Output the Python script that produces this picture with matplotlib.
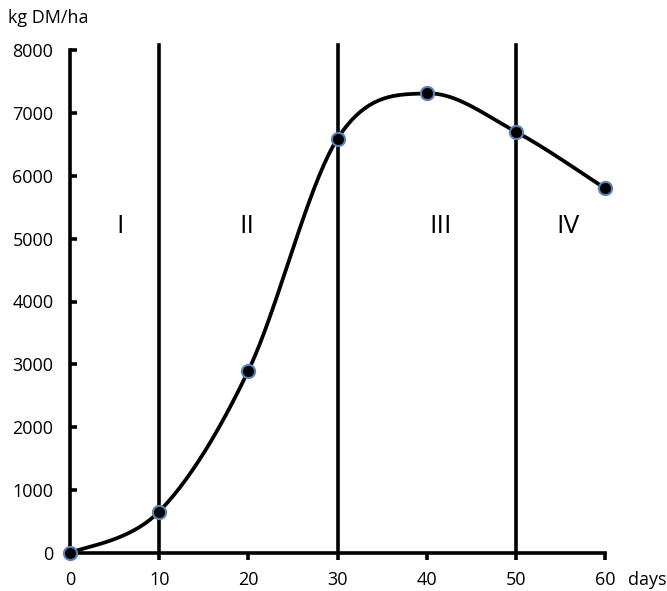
import matplotlib
matplotlib.use("Agg")
import matplotlib.pyplot as plt
import numpy as np

# Data
days = [0, 10, 20, 30, 40, 50, 60]
yield_kg = [0, 660, 2900, 6590, 7310, 6700, 5800]
phase_days = [10, 30, 50]
phase_labels = ["I", "II", "III", "IV"]
phase_label_x = [5.6, 19.8, 41.6, 55.8]
phase_label_y = 5200


def smooth_line(x, y, n=40):
    # Bezier smoothing like a spreadsheet "smoothed line"
    x = np.asarray(x, float)
    y = np.asarray(y, float)
    px = np.concatenate([[x[0]], x, [x[-1]]])
    py = np.concatenate([[y[0]], y, [y[-1]]])
    xs, ys = [], []
    t = np.linspace(0, 1, n)
    for i in range(1, len(px) - 2):
        p0 = np.array([px[i], py[i]])
        p3 = np.array([px[i + 1], py[i + 1]])
        c1 = p0 + (np.array([px[i + 1], py[i + 1]]) - np.array([px[i - 1], py[i - 1]])) / 6
        c2 = p3 - (np.array([px[i + 2], py[i + 2]]) - np.array([px[i], py[i]])) / 6
        b = ((1 - t) ** 3)[:, None] * p0 + (3 * (1 - t) ** 2 * t)[:, None] * c1 \
            + (3 * (1 - t) * t ** 2)[:, None] * c2 + (t ** 3)[:, None] * p3
        xs.extend(b[:, 0])
        ys.extend(b[:, 1])
    return xs, ys


plt.rcParams['font.family'] = ['Open Sans', 'DejaVu Sans']

fig = plt.figure(figsize=(6.67, 5.91), dpi=100)
ax = fig.add_axes([70 / 667, 38 / 591, 535 / 667, 503 / 591])

for d in phase_days:
    ax.plot([d, d], [0, 8080], color='black', lw=2.6, zorder=1, clip_on=False)

sx, sy = smooth_line(days, yield_kg)
ax.plot(sx, sy, color='black', lw=2.7, zorder=2, clip_on=False)
ax.plot(days, yield_kg, 'o', ms=9.5, mfc='black', mec='#5b82b8', mew=1.5,
        zorder=3, clip_on=False)

for lab, lx in zip(phase_labels, phase_label_x):
    ax.text(lx, phase_label_y, lab, fontsize=19, ha='center', va='center')

ax.set_xlim(0, 60)
ax.set_ylim(0, 8000)
ax.set_xticks(range(0, 61, 10))
ax.set_yticks(range(0, 8001, 1000))
ax.spines['top'].set_visible(False)
ax.spines['right'].set_visible(False)
ax.spines['left'].set_linewidth(2.6)
ax.spines['bottom'].set_linewidth(2.6)
ax.tick_params(axis='y', direction='in', length=5, width=2.6, labelsize=13, pad=12)
ax.tick_params(axis='x', direction='out', length=5, width=2.6, labelsize=13, pad=8)

fig.text(8 / 667, 1 - 18 / 591, "kg DM/ha", fontsize=13, va='center', ha='left')
fig.text(628 / 667, 1 - 580 / 591, "days", fontsize=13, va='center', ha='left')

fig.savefig("out.png", dpi=100)
